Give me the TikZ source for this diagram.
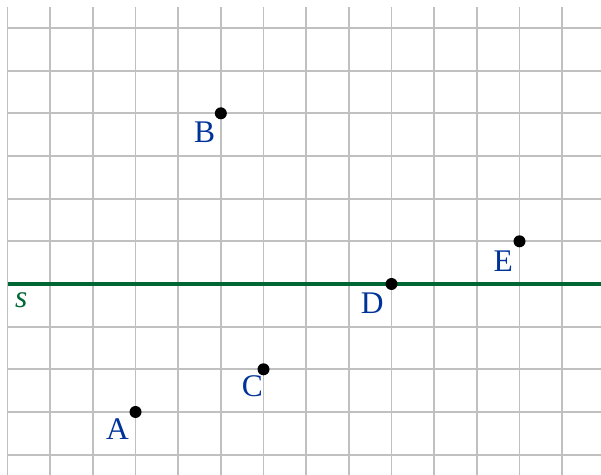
\documentclass[tikz,border=0pt]{standalone}
\usepackage{fontspec}
\setmainfont{Liberation Serif}
\usepackage{xcolor}
\definecolor{gridgray}{RGB}{192,192,192}
\definecolor{lineGreen}{RGB}{0,102,51}
\definecolor{ptBlue}{RGB}{0,51,153}
\begin{document}
\begin{tikzpicture}[
    gridline/.style={draw=gridgray, line width=1.3pt},
    axis/.style={draw=lineGreen, line width=2.7pt},
    pt/.style={circle, fill=black, inner sep=0pt, minimum size=8pt},
    lbl/.style={text=ptBlue, font=\fontsize{21}{21}\selectfont, inner sep=0pt}
]
\useasboundingbox (-0.176,-4.476) rectangle (13.91,6.656);
% grid
\foreach \y in {-4,...,6}
    \draw[gridline] (0,\y) -- (13.91,\y);
\foreach \x in {0,...,13}
    \draw[gridline] (\x,-4.476) -- (\x,6.5);
% line s
\coordinate (s0) at (0,0);
\coordinate (s1) at (13.91,0);
\draw[axis] (s0) -- (s1);
\node[text=lineGreen, font=\fontsize{21}{21}\selectfont\itshape, inner sep=0pt] (slbl) at (0.32,-0.37) {s};
% points
\node[pt] (A) at (3,-3) {};
\node[pt] (B) at (5,4) {};
\node[pt] (C) at (6,-2) {};
\node[pt] (D) at (9,0) {};
\node[pt] (E) at (12,1) {};
\node[lbl] (lA) at ([shift={(-0.42,-0.40)}]A) {A};
\node[lbl] (lB) at ([shift={(-0.38,-0.45)}]B) {B};
\node[lbl] (lC) at ([shift={(-0.26,-0.40)}]C) {C};
\node[lbl] (lD) at ([shift={(-0.45,-0.45)}]D) {D};
\node[lbl] (lE) at ([shift={(-0.38,-0.47)}]E) {E};
\end{tikzpicture}
\end{document}
